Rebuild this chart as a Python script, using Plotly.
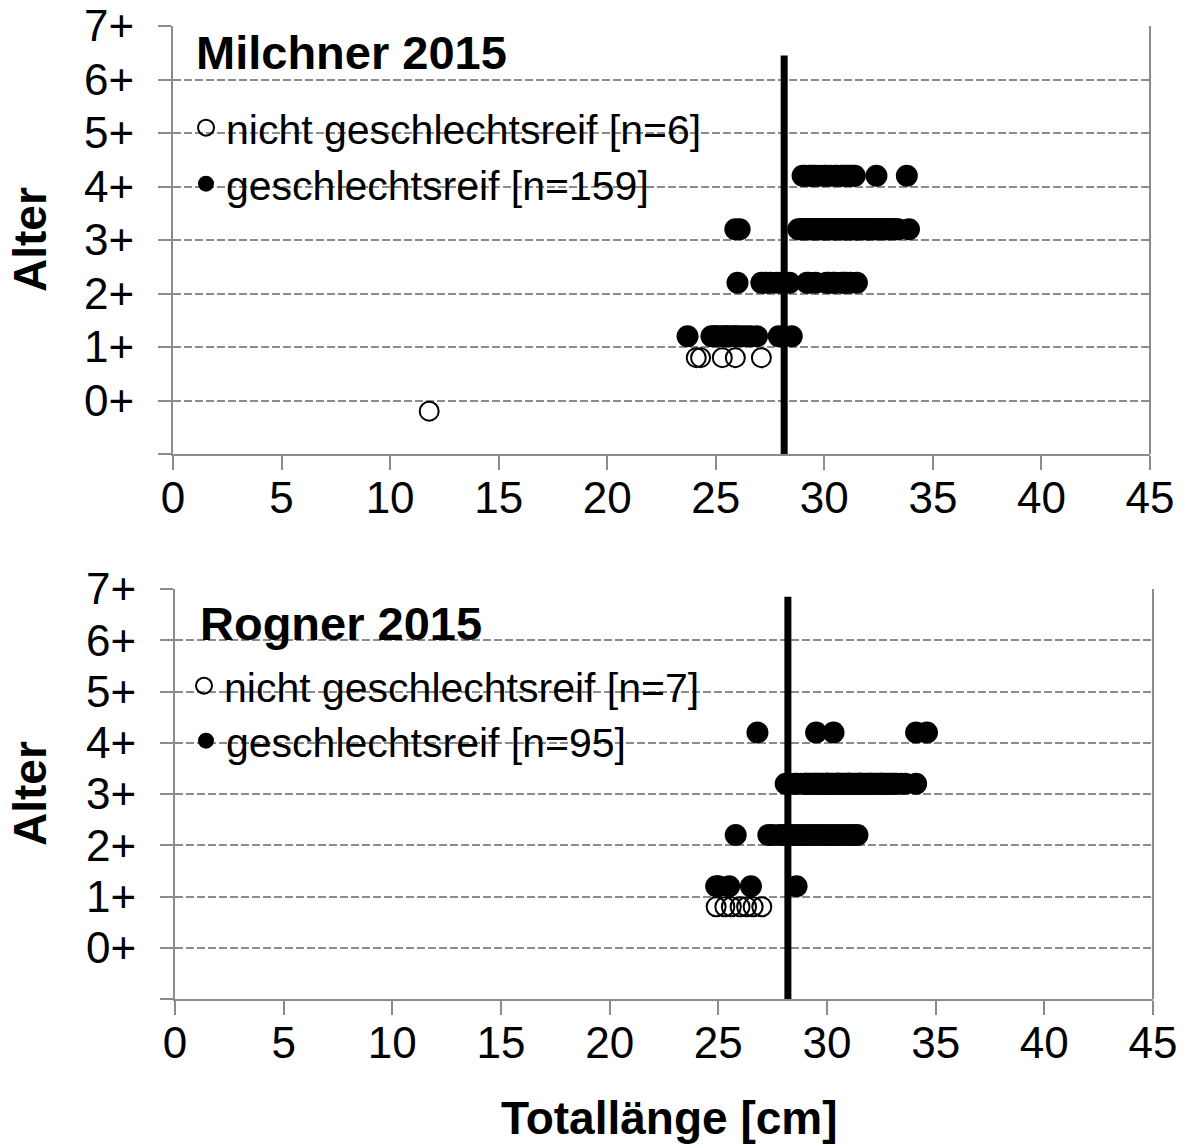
import plotly.graph_objects as go

W, H = 1191, 1147

# ---- Milchner 2015: total length [cm] by age class ----
milchner_unreif_0 = [11.8]
milchner_unreif_1 = [24.1, 24.3, 25.3, 25.9, 27.1]
milchner_reif_1 = [23.7, 24.8, 24.9, 25.0, 25.1, 25.3, 25.4, 25.5, 25.6, 25.8,
                   25.9, 26.0, 26.2, 26.4, 26.6, 26.9, 27.9, 28.5]
milchner_reif_2 = [26.0, 27.1, 27.3, 27.5, 27.8, 28.0, 28.2, 28.4, 29.2, 29.3,
                   29.6, 30.1, 30.2, 30.4, 30.5, 30.8, 30.9, 31.0, 31.2, 31.5]
milchner_reif_3 = [25.9, 26.1, 28.8, 28.9, 29.0, 29.0, 29.1, 29.2, 29.2, 29.3,
                   29.4, 29.5, 29.5, 29.6, 29.7, 29.8, 29.8, 29.9, 30.0, 30.0,
                   30.0, 30.1, 30.2, 30.2, 30.3, 30.3, 30.4, 30.5, 30.5, 30.5,
                   30.6, 30.7, 30.7, 30.8, 30.8, 30.9, 31.0, 31.0, 31.0, 31.1,
                   31.2, 31.2, 31.3, 31.3, 31.4, 31.5, 31.5, 31.5, 31.6, 31.7,
                   31.7, 31.8, 31.9, 32.0, 32.0, 32.0, 32.1, 32.2, 32.3, 32.4,
                   32.5, 32.5, 32.6, 32.7, 32.8, 32.9, 33.0, 33.1, 33.2, 33.4,
                   33.9, 29.0, 29.5, 30.0, 30.5, 31.0, 31.5, 32.0, 30.2, 30.8,
                   29.3, 29.7, 30.4, 30.9, 31.1, 31.4, 31.8, 32.2, 32.6, 33.0,
                   29.1, 29.6, 30.1, 30.6, 31.2, 31.6, 32.1, 32.4, 32.8, 33.3]
milchner_reif_4 = [29.0, 29.1, 29.3, 29.4, 29.5, 29.6, 29.8, 30.0, 30.1, 30.3,
                   30.5, 30.6, 30.8, 30.9, 31.0, 31.1, 31.2, 31.3, 31.4, 32.4,
                   33.8]
milchner_l50 = 28.15
milchner_l50_top = 6.45

# ---- Rogner 2015 ----
rogner_unreif_1 = [24.9, 25.3, 25.6, 26.0, 26.3, 26.6, 27.0]
rogner_reif_1 = [24.9, 25.0, 25.5, 26.5, 28.6]
rogner_reif_2 = [25.8, 27.3, 27.5, 27.8, 28.0, 28.2, 28.4, 28.6, 28.8, 29.0,
                 29.2, 29.4, 29.6, 29.8, 30.0, 30.2, 30.4, 30.6, 30.8, 31.0,
                 31.2, 31.4]
rogner_reif_3 = [28.1, 28.3, 28.5, 28.6, 28.8, 29.0, 29.0, 29.1, 29.2, 29.3,
                 29.4, 29.5, 29.6, 29.7, 29.8, 29.9, 30.0, 30.0, 30.1, 30.2,
                 30.3, 30.4, 30.5, 30.5, 30.6, 30.7, 30.8, 30.9, 31.0, 31.0,
                 31.1, 31.2, 31.3, 31.4, 31.5, 31.5, 31.6, 31.7, 31.8, 31.9,
                 32.0, 32.1, 32.2, 32.3, 32.4, 32.5, 32.6, 32.7, 32.8, 32.9,
                 33.0, 33.1, 33.2, 33.4, 33.6, 34.1, 29.5, 30.0, 30.5, 31.0,
                 31.5, 32.0, 32.5]
rogner_reif_4 = [26.8, 29.5, 30.3, 34.1, 34.6]
rogner_l50 = 28.2
rogner_l50_top = 6.85

age_labels = ["", "0+", "1+", "2+", "3+", "4+", "5+", "6+", "7+"]
age_ticks = list(range(-1, 8))
x_ticks = list(range(0, 50, 5))

# immature fish are drawn slightly below, mature slightly above the age line
OFF_UNREIF = -0.2
OFF_REIF = 0.2


def stack(groups, offset):
    xs, ys = [], []
    for age, vals in groups:
        xs += vals
        ys += [age + offset] * len(vals)
    return xs, ys


FONT = "Arial, Liberation Sans, sans-serif"
GRAY = "#8c8c8c"

fig = go.Figure()

panels = [
    dict(xa="x", ya="y",
         unreif=[(0, milchner_unreif_0), (1, milchner_unreif_1)],
         reif=[(1, milchner_reif_1), (2, milchner_reif_2),
               (3, milchner_reif_3), (4, milchner_reif_4)],
         l50=milchner_l50, l50_top=milchner_l50_top,
         leg=("legend", "legend2")),
    dict(xa="x2", ya="y2",
         unreif=[(1, rogner_unreif_1)],
         reif=[(1, rogner_reif_1), (2, rogner_reif_2),
               (3, rogner_reif_3), (4, rogner_reif_4)],
         l50=rogner_l50, l50_top=rogner_l50_top,
         leg=("legend3", "legend4")),
]

for p in panels:
    ux, uy = stack(p["unreif"], OFF_UNREIF)
    rx, ry = stack(p["reif"], OFF_REIF)
    fig.add_trace(go.Scatter(
        x=[p["l50"], p["l50"]], y=[-1, p["l50_top"]], mode="lines",
        line=dict(color="black", width=7), xaxis=p["xa"], yaxis=p["ya"],
        showlegend=False, hoverinfo="skip"))
    fig.add_trace(go.Scatter(
        x=ux, y=uy, mode="markers", xaxis=p["xa"], yaxis=p["ya"],
        name=f"nicht geschlechtsreif [n={len(ux)}]", legend=p["leg"][0],
        marker=dict(symbol="circle-open", size=19, color="black",
                    line=dict(width=2, color="black"))))
    fig.add_trace(go.Scatter(
        x=rx, y=ry, mode="markers", xaxis=p["xa"], yaxis=p["ya"],
        name=f"geschlechtsreif [n={len(rx)}]", legend=p["leg"][1],
        marker=dict(symbol="circle", size=22, color="black")))


def px_x(v):
    return v / W


def px_y(v):
    return 1 - v / H


xaxis_common = dict(range=[0, 45], tickvals=x_ticks, ticks="outside", ticklen=14,
                    tickwidth=2, tickcolor=GRAY, showline=True, linecolor=GRAY,
                    linewidth=2, showgrid=False, zeroline=False, automargin=False,
                    tickfont=dict(family=FONT, size=44, color="black"),
                    ticklabelstandoff=-10, fixedrange=True)
yaxis_common = dict(range=[-1, 7], tickvals=age_ticks, ticktext=age_labels,
                    ticks="outside", ticklen=13, tickwidth=2, tickcolor=GRAY,
                    showline=True, linecolor=GRAY, linewidth=2, showgrid=True,
                    gridcolor=GRAY, gridwidth=2, griddash="8px,3px",
                    zeroline=False, automargin=False,
                    tickfont=dict(family=FONT, size=44, color="black"),
                    ticklabelstandoff=15, fixedrange=True)

legend_common = dict(bgcolor="rgba(0,0,0,0)", borderwidth=0, xanchor="left",
                     yanchor="middle", itemsizing="trace",
                     font=dict(family=FONT, size=41, color="black"))

fig.update_layout(
    width=W, height=H, autosize=False,
    margin=dict(l=0, r=0, t=0, b=0, autoexpand=False),
    paper_bgcolor="white", plot_bgcolor="white",
    font=dict(family=FONT, color="black"),
    xaxis=dict(domain=[px_x(173), px_x(1150)], anchor="y", **xaxis_common),
    yaxis=dict(domain=[px_y(454), px_y(26)], anchor="x", **yaxis_common),
    xaxis2=dict(domain=[px_x(175), px_x(1153)], anchor="y2", **xaxis_common),
    yaxis2=dict(domain=[px_y(999), px_y(589)], anchor="x2", **yaxis_common),
    legend=dict(x=px_x(186), y=px_y(128), **legend_common),
    legend2=dict(x=px_x(186), y=px_y(184), **legend_common),
    legend3=dict(x=px_x(184), y=px_y(686), **legend_common),
    legend4=dict(x=px_x(186), y=px_y(741), **legend_common),
    showlegend=True,
)

# right-hand frame of each plot area
for xa, ya in (("x", "y"), ("x2", "y2")):
    fig.add_shape(type="line", xref=f"{xa} domain", yref=f"{ya} domain",
                  x0=1, x1=1, y0=0, y1=1, line=dict(color=GRAY, width=2))

# panel titles
fig.add_annotation(text="<b>Milchner 2015</b>", xref="paper", yref="paper",
                   x=px_x(194), y=px_y(52), xanchor="left", yanchor="middle",
                   showarrow=False, font=dict(family=FONT, size=47, color="black"))
fig.add_annotation(text="<b>Rogner 2015</b>", xref="paper", yref="paper",
                   x=px_x(198), y=px_y(623), xanchor="left", yanchor="middle",
                   showarrow=False, font=dict(family=FONT, size=47, color="black"))

# axis titles
for ya in ("y", "y2"):
    fig.add_annotation(text="<b>Alter</b>", xref="paper", yref=f"{ya} domain",
                       x=px_x(30), y=0.5, xanchor="center", yanchor="middle",
                       textangle=-90, showarrow=False,
                       font=dict(family=FONT, size=46, color="black"))
fig.add_annotation(text="<b>Totallänge [cm]</b>", xref="paper", yref="paper",
                   x=px_x(669), y=px_y(1118), xanchor="center", yanchor="middle",
                   showarrow=False, font=dict(family=FONT, size=46, color="black"))

fig.write_html("out.html")
